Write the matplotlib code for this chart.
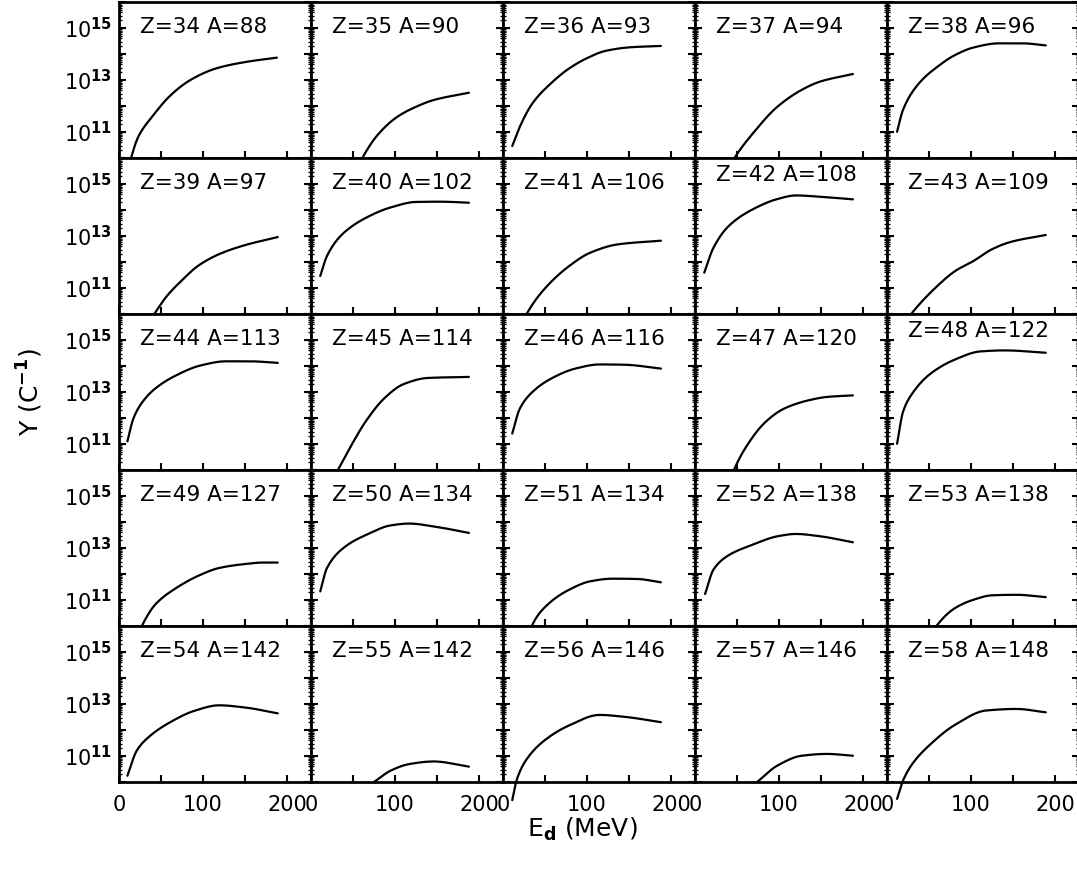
import matplotlib
matplotlib.use("Agg")
import matplotlib.pyplot as plt
import numpy as np
from matplotlib.ticker import FixedLocator, LogLocator, NullFormatter, FuncFormatter

# ---------------- data (energy in MeV, log10 of yield in C^-1) ----------------
Z_vals = [34, 35, 36, 37, 38, 39, 40, 41, 42, 43, 44, 45, 46, 47, 48,
          49, 50, 51, 52, 53, 54, 55, 56, 57, 58]
A_vals = [88, 90, 93, 94, 96, 97, 102, 106, 108, 109, 113, 114, 116, 120, 122,
          127, 134, 134, 138, 138, 142, 142, 146, 146, 148]

E_34 = [10, 23, 41, 61, 85, 116, 152, 188]
L_34 = [9.54, 10.82, 11.65, 12.40, 13.0, 13.45, 13.70, 13.86]
E_35 = [57, 62, 81, 103, 125, 146, 188]
L_35 = [9.7, 10.05, 10.95, 11.59, 11.97, 12.23, 12.51]
E_36 = [11, 20, 35, 57, 79, 100, 122, 152, 188]
L_36 = [10.46, 11.2, 12.1, 12.87, 13.45, 13.84, 14.12, 14.26, 14.31]
E_37 = [42, 48, 69, 98, 127, 149, 188]
L_37 = [9.7, 10.05, 10.95, 11.97, 12.62, 12.94, 13.23]
E_38 = [12, 19, 38, 60, 81, 103, 133, 162, 189]
L_38 = [11.01, 11.85, 12.87, 13.51, 13.96, 14.25, 14.41, 14.41, 14.33]

E_39 = [38, 43, 57, 76, 94, 119, 149, 189]
L_39 = [9.8, 10.05, 10.69, 11.33, 11.85, 12.30, 12.64, 12.96]
E_40 = [11, 19, 37, 66, 95, 125, 154, 188]
L_40 = [11.46, 12.23, 13.06, 13.71, 14.10, 14.31, 14.32, 14.28]
E_41 = [21, 29, 49, 79, 104, 137, 188]
L_41 = [9.5, 10.05, 10.95, 11.85, 12.36, 12.68, 12.82]
E_42 = [11, 22, 40, 69, 98, 120, 149, 188]
L_42 = [11.59, 12.55, 13.38, 14.03, 14.42, 14.56, 14.51, 14.41]
E_43 = [21, 30, 60, 81, 103, 125, 147, 189]
L_43 = [9.65, 10.05, 11.08, 11.65, 12.04, 12.49, 12.77, 13.04]

E_44 = [10, 17, 28, 43, 68, 97, 127, 156, 189]
L_44 = [11.1, 11.97, 12.62, 13.13, 13.64, 14.02, 14.18, 14.18, 14.12]
E_45 = [32, 48, 66, 88, 110, 139, 188]
L_45 = [10.0, 10.95, 11.91, 12.78, 13.30, 13.54, 13.58]
E_46 = [11, 20, 35, 57, 86, 115, 144, 188]
L_46 = [11.4, 12.36, 13.0, 13.51, 13.90, 14.06, 14.05, 13.90]
E_47 = [44, 47, 62, 84, 106, 135, 157, 188]
L_47 = [9.8, 10.05, 10.95, 11.85, 12.36, 12.68, 12.81, 12.87]
E_48 = [12, 19, 30, 52, 81, 111, 140, 189]
L_48 = [11.01, 12.23, 12.94, 13.71, 14.25, 14.56, 14.60, 14.51]

E_49 = [21, 28, 43, 68, 97, 119, 149, 171, 189]
L_49 = [9.5, 10.05, 10.82, 11.46, 11.97, 12.23, 12.38, 12.44, 12.44]
E_50 = [11, 19, 41, 66, 95, 117, 146, 188]
L_50 = [11.33, 12.23, 13.06, 13.51, 13.87, 13.94, 13.83, 13.58]
E_51 = [32, 35, 53, 79, 104, 130, 159, 188]
L_51 = [9.75, 10.05, 10.82, 11.40, 11.72, 11.82, 11.81, 11.68]
E_52 = [12, 22, 40, 69, 98, 120, 149, 188]
L_52 = [11.23, 12.17, 12.72, 13.13, 13.45, 13.54, 13.45, 13.22]
E_53 = [55, 60, 81, 103, 125, 154, 189]
L_53 = [9.8, 10.05, 10.69, 11.01, 11.18, 11.20, 11.11]

E_54 = [10, 21, 35, 61, 90, 119, 149, 189]
L_54 = [10.24, 11.2, 11.72, 12.30, 12.74, 12.95, 12.87, 12.64]
E_55 = [75, 95, 117, 146, 188]
L_55 = [10.0, 10.44, 10.69, 10.79, 10.59]
E_56 = [11, 16, 27, 49, 79, 115, 144, 188]
L_56 = [9.3, 10.05, 10.82, 11.59, 12.18, 12.58, 12.51, 12.30]
E_57 = [74, 98, 127, 157, 188]
L_57 = [10.0, 10.63, 11.01, 11.08, 11.01]
E_58 = [12, 19, 30, 52, 81, 118, 154, 189]
L_58 = [9.35, 10.05, 10.69, 11.46, 12.20, 12.75, 12.81, 12.68]

energies = [E_34, E_35, E_36, E_37, E_38, E_39, E_40, E_41, E_42, E_43,
            E_44, E_45, E_46, E_47, E_48, E_49, E_50, E_51, E_52, E_53,
            E_54, E_55, E_56, E_57, E_58]
log_yields = [L_34, L_35, L_36, L_37, L_38, L_39, L_40, L_41, L_42, L_43,
              L_44, L_45, L_46, L_47, L_48, L_49, L_50, L_51, L_52, L_53,
              L_54, L_55, L_56, L_57, L_58]

x_ticks = [0, 50, 100, 150, 200]
x_labels = {0: "0", 100: "100", 200: "200"}
y_label_exps = [11, 13, 15]
raised_labels = {42, 48}


def smooth_line(x, y, n=200):
    """Shape-preserving (PCHIP) cubic drawn through the read points."""
    x = np.asarray(x, float)
    y = np.asarray(y, float)
    h = np.diff(x)
    d = np.diff(y) / h
    m = np.zeros_like(y)
    m[0], m[-1] = d[0], d[-1]
    for k in range(1, len(x) - 1):
        if d[k - 1] * d[k] > 0:
            w1 = 2 * h[k] + h[k - 1]
            w2 = h[k] + 2 * h[k - 1]
            m[k] = (w1 + w2) / (w1 / d[k - 1] + w2 / d[k])
    xs = np.linspace(x[0], x[-1], n)
    idx = np.clip(np.searchsorted(x, xs) - 1, 0, len(x) - 2)
    t = (xs - x[idx]) / h[idx]
    h00 = 2 * t**3 - 3 * t**2 + 1
    h10 = t**3 - 2 * t**2 + t
    h01 = -2 * t**3 + 3 * t**2
    h11 = t**3 - t**2
    ys = h00 * y[idx] + h10 * h[idx] * m[idx] + h01 * y[idx + 1] + h11 * h[idx] * m[idx + 1]
    return xs, ys


# ---------------- figure ----------------
W, H = 1077, 872
fig = plt.figure(figsize=(W / 100, H / 100), dpi=100)
plt.rcParams['font.family'] = ['DejaVu Sans']
plt.rcParams['mathtext.fontset'] = 'dejavusans'

left_px, top_px = 119, 2
pw, ph = 192, 156
nrows, ncols = 5, 5

for i in range(25):
    r, c = divmod(i, ncols)
    x0 = (left_px + c * pw) / W
    y0 = 1 - (top_px + (r + 1) * ph) / H
    ax = fig.add_axes([x0, y0, pw / W, ph / H])
    ax.set_yscale('log')
    ax.set_xlim(0, pw / 0.84)
    ax.set_ylim(1e10, 1e16)
    xs, ys = smooth_line(energies[i], log_yields[i])
    ax.plot(xs, 10.0 ** ys, color='black', lw=1.6, clip_on=False, zorder=5,
            solid_capstyle='round')
    for sp in ax.spines.values():
        sp.set_linewidth(2.0)
    ax.xaxis.set_major_locator(FixedLocator(x_ticks))
    ax.yaxis.set_major_locator(LogLocator(base=10, numticks=20))
    ax.yaxis.set_minor_locator(LogLocator(base=10, subs=np.arange(2, 10), numticks=20))
    ax.yaxis.set_minor_formatter(NullFormatter())
    ax.tick_params(axis='x', which='both', direction='in', top=False, bottom=True,
                   length=5, width=1.5, labelsize=15, pad=9)
    ax.tick_params(axis='y', which='major', direction='in', left=True, right=True,
                   length=5, width=1.5, labelsize=15, pad=5)
    ax.tick_params(axis='y', which='minor', direction='in', left=True, right=True,
                   length=2.5, width=1.0)
    if r == nrows - 1:
        ax.xaxis.set_major_formatter(FuncFormatter(lambda v, p: x_labels.get(int(round(v)), "")))
    else:
        ax.set_xticklabels([])
    if c == 0:
        ax.yaxis.set_major_formatter(FuncFormatter(
            lambda v, p: (r'$10^{\mathbf{%d}}$' % int(round(np.log10(v))))
            if int(round(np.log10(v))) in y_label_exps else ""))
    else:
        ax.yaxis.set_major_formatter(NullFormatter())
    ty = 0.89 if Z_vals[i] in raised_labels else 0.84
    ax.text(0.11, ty, f"Z={Z_vals[i]} A={A_vals[i]}", transform=ax.transAxes,
            fontsize=15.5, ha='left', va='center')

fig.text(0.028, 0.55, r'Y (C$^{\mathbf{-1}}$)', rotation=90, fontsize=18,
         ha='center', va='center')
fig.text(0.541, 0.049, r'E$_{\mathbf{d}}$ (MeV)', fontsize=18, ha='center', va='center')

fig.savefig("out.png", dpi=100)
